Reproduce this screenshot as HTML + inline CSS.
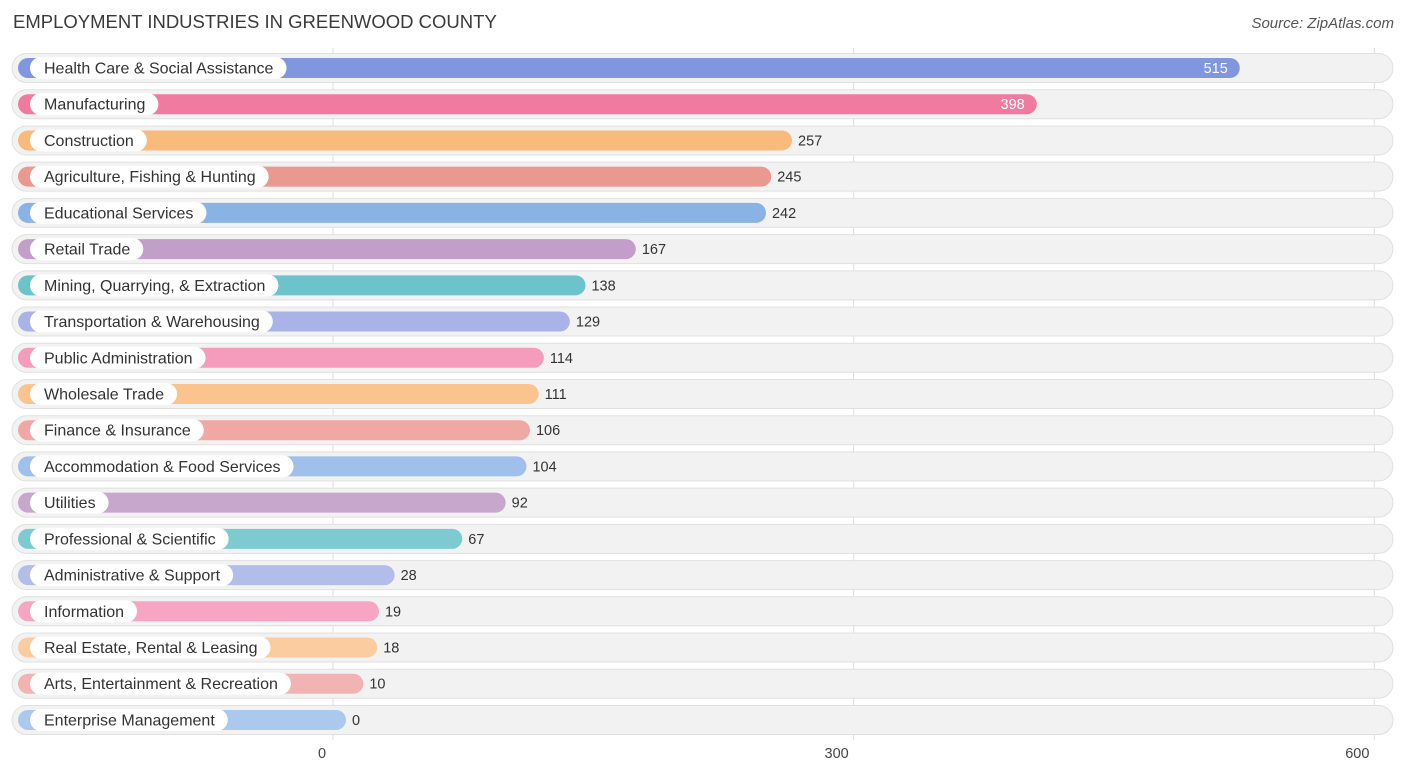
<!DOCTYPE html>
<html><head><meta charset="utf-8"><style>
body{margin:0;width:1406px;height:776px;background:#fff;font-family:"Liberation Sans",sans-serif;position:relative;overflow:hidden}
.t{position:absolute;left:13px;top:11px;font-size:18.5px;color:#3a3a3a}
.s{position:absolute;right:12px;top:15px;font-size:15px;color:#555;font-style:italic}
</style></head><body>
<div class="t">EMPLOYMENT INDUSTRIES IN GREENWOOD COUNTY</div>
<div class="s">Source: ZipAtlas.com</div>
<svg id="c" width="1406" height="776" style="position:absolute;left:0;top:0"></svg>
<script>
const categories=["Health Care & Social Assistance","Manufacturing","Construction","Agriculture, Fishing & Hunting","Educational Services","Retail Trade","Mining, Quarrying, & Extraction","Transportation & Warehousing","Public Administration","Wholesale Trade","Finance & Insurance","Accommodation & Food Services","Utilities","Professional & Scientific","Administrative & Support","Information","Real Estate, Rental & Leasing","Arts, Entertainment & Recreation","Enterprise Management"];
const values=[515,398,257,245,242,167,138,129,114,111,106,104,92,67,28,19,18,10,0];
const ticks=[0,300,600];
const colors=["#8097e0","#f07aa0","#f9bb7c","#ea9990","#88b3e4","#c29fc8","#6cc3cc","#a9b3e8","#f59bbb","#fbc48e","#f0a8a5","#9ec0ea","#c8a7cc","#7dcbd0","#b3bde9","#f6a6c2","#fbcc9f","#f2b4b2","#abc8ee"];
const svg=document.getElementById('c');const NS='http://www.w3.org/2000/svg';
const x=v=>346+v*1.7355;
const gx=v=>333+v*1.7355;
const y=i=>68+i*36.22;
function mk(t,a,p){const e=document.createElementNS(NS,t);for(const k in a)e.setAttribute(k,a[k]);(p||svg).appendChild(e);return e;}
ticks.forEach(t=>{
 const l=mk('line',{x1:gx(t),x2:gx(t),y1:48,y2:740,stroke:'#ddd','stroke-width':1});
 
 
});
categories.forEach((c,i)=>{
 const g=mk('g',{});
 
 
 const bg=mk('rect',{x:12,y:y(i)-14.5,width:1381,height:29,rx:14.5,fill:'#f2f2f2',stroke:'#e0e0e0'},g);
 
 
 const b=mk('rect',{x:18,y:y(i)-10,width:x(values[i])-18,height:20,rx:10,fill:colors[i]},g);
 
 
 const lp=mk('rect',{x:30,y:y(i)-11,width:100,height:22,rx:11,fill:'#fff'},g);
 
 
 const lt=mk('text',{x:44,y:y(i)+5.5,'font-size':16,fill:'#333'},g);lt.textContent=c;
 
 
 lp.setAttribute('width',lt.getComputedTextLength()+27);
 const inside=values[i]>350;
 const vt=mk('text',{x:inside?x(values[i])-12:x(values[i])+6,y:y(i)+5,'font-size':14.5,fill:inside?'#fff':'#333','text-anchor':inside?'end':'start'},g);
 vt.textContent=values[i];
 
 
});
ticks.forEach(t=>{
 const tt=mk('text',{x:gx(t)-11+(t>0?-6:0),y:758,'font-size':14.5,fill:'#444','text-anchor':'middle'});
 tt.textContent=t;
 
 
});
</script>
</body></html>
